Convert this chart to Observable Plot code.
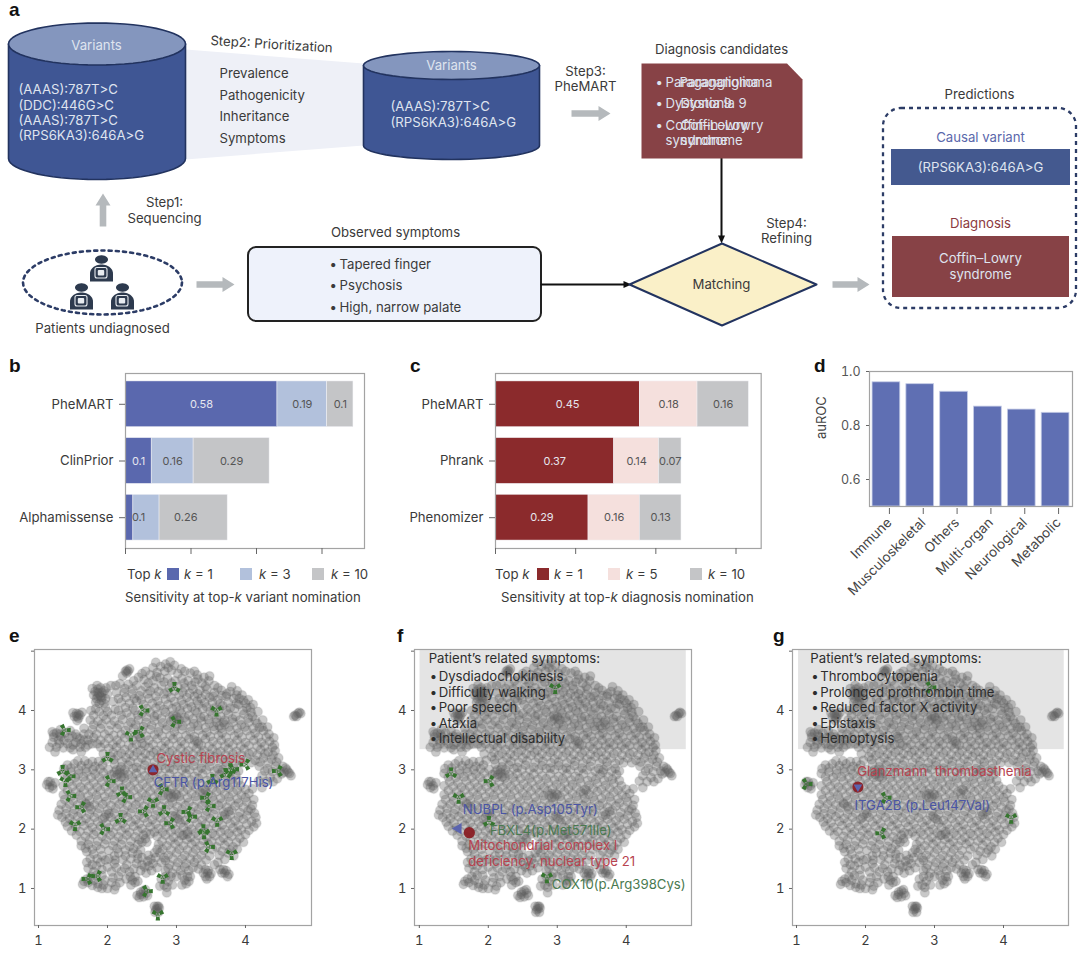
<!DOCTYPE html>
<html><head><meta charset="utf-8">
<script src="https://cdn.jsdelivr.net/npm/d3@7"></script>
<script src="https://cdn.jsdelivr.net/npm/@observablehq/plot@0.6"></script>
<style>
html,body{margin:0;padding:0;background:#fff}
#page{position:relative;width:1080px;height:954px;overflow:hidden;font-family:Inter,sans-serif;color:#3a3a3a}
#page svg{position:absolute;overflow:visible}
.t{position:absolute;white-space:nowrap;font-size:13.2px;line-height:15px;transform:translateY(-50%)}
.l{position:absolute;font:bold 19px "Liberation Sans",sans-serif;color:#111;line-height:16px;transform:translateY(-50%)}
.s{position:absolute;width:12px;height:12px}
</style></head><body><div id="page"></div>
<script>
const FONT="Inter, sans-serif", FS=13.2;
// ---------- panel b / c / d values
const kLevelsB=["k = 1","k = 3","k = 10"], kLevelsC=["k = 1","k = 5","k = 10"];
const modelsB=["PheMART","ClinPrior","Alphamissense"];
const valuesB=[[.58,.19,.10],[.10,.16,.29],[.03,.10,.26]];
const modelsC=["PheMART","Phrank","Phenomizer"];
const valuesC=[[.45,.18,.16],[.37,.14,.07],[.29,.16,.13]];
const coloursB=["#5a68ae","#b2c1dc","#c4c5c7"], coloursC=["#8b2a2c","#f5e0dd","#c4c5c7"];
const groupsD=["Immune","Musculoskeletal","Others","Multi-organ","Neurological","Metabolic"];
const aurocD=[.96,.953,.925,.87,.859,.847];
// ---------- panels e / f / g: grey embedding cloud
const cloudA=[[2.91,4.82],[2.84,4.78],[2.77,4.74],[2.97,4.76],[2.66,4.72],[2.28,4.68],[2.3,4.66],[2.26,4.66],
[2.55,4.66],[2.62,4.6],[2.72,4.64],[2.83,4.66],[2.93,4.68],[3.02,4.62],[3.12,4.66],[3.2,4.63],[3.3,4.6],[3.4,4.56],
[2.45,4.56],[2.53,4.52],[2.66,4.5],[2.76,4.55],[2.87,4.54],[2.98,4.5],[3.08,4.54],[3.17,4.5],[3.27,4.48],[3.37,4.46],[3.47,4.5],[3.55,4.42],
[2.18,4.45],[2.3,4.44],[2.42,4.42],[2.55,4.4],[2.68,4.38],[2.78,4.42],[2.9,4.38],[3.02,4.4],[3.12,4.38],[3.24,4.36],[3.34,4.34],[3.44,4.36],[3.55,4.3],[3.65,4.34],[3.8,4.4],[3.88,4.33],
[1.85,4.42],[1.9,4.38],[1.82,4.32],[1.88,4.28],[1.92,4.22],[1.84,4.2],[1.95,4.33],[2.05,4.42],[2.0,4.28],[1.88,4.12],[1.95,4.12],[2.12,4.42],[2.08,4.15],
[2.24,4.3],[2.36,4.28],[2.46,4.25],[2.58,4.28],[2.7,4.24],[2.82,4.28],[2.92,4.22],[3.04,4.26],[3.15,4.22],[3.26,4.24],[3.36,4.2],[3.48,4.22],[3.6,4.18],[3.72,4.24],[3.83,4.2],[3.95,4.26],[4.04,4.18],
[2.2,4.14],[2.32,4.12],[2.42,4.16],[2.52,4.1],[2.65,4.12],[2.76,4.08],[2.88,4.1],[3.0,4.06],[3.1,4.1],[3.22,4.06],[3.32,4.1],[3.44,4.06],[3.55,4.04],[3.67,4.08],[3.78,4.04],[3.9,4.1],[4.02,4.04],[4.11,4.1],
[1.55,3.95],[1.6,3.92],[1.52,3.9],[1.58,3.87],[1.76,4.0],[1.88,3.98],[2.0,3.98],[2.16,4.0],[2.28,3.96],[2.4,4.0],[2.5,3.95],[2.62,3.97],[2.72,3.93],[2.84,3.97],[2.95,3.92],[3.07,3.95],[3.18,3.92],[3.3,3.96],[3.4,3.9],[3.52,3.93],[3.64,3.9],[3.75,3.94],[3.86,3.9],[3.98,3.94],[4.1,3.9],[4.18,3.98],
[1.75,3.84],[1.86,3.82],[1.98,3.85],[2.1,3.82],[2.22,3.85],[2.34,3.8],[2.45,3.84],[2.56,3.8],[2.68,3.83],[2.8,3.79],[2.92,3.82],[3.02,3.78],[3.14,3.82],[3.25,3.78],[3.36,3.82],[3.48,3.78],[3.58,3.8],[3.7,3.76],[3.82,3.8],[3.94,3.76],[4.05,3.8],[4.17,3.78],[4.25,3.84],
[1.32,3.68],[1.26,3.62],[1.38,3.62],[1.46,3.66],[1.22,3.55],[1.32,3.56],[1.44,3.54],[1.54,3.6],[1.66,3.7],[1.78,3.68],[1.9,3.7],[2.02,3.66],[2.14,3.7],[2.26,3.66],[2.38,3.7],[2.5,3.66],[2.62,3.68],[2.74,3.64],[2.85,3.68],[2.97,3.64],[3.08,3.68],[3.2,3.64],[3.32,3.67],[3.44,3.63],[3.55,3.67],[3.66,3.62],[3.78,3.66],[3.9,3.62],[4.02,3.66],[4.14,3.62],[4.26,3.66],[4.34,3.6],
[1.2,3.46],[1.3,3.44],[1.42,3.44],[1.54,3.46],[1.6,3.38],[1.66,3.5],[1.72,3.42],[1.8,3.54],[1.9,3.5],[2.02,3.53],[2.14,3.5],[2.25,3.54],[2.37,3.5],[2.48,3.53],[2.6,3.5],[2.72,3.52],[2.84,3.48],[2.95,3.52],[3.07,3.48],[3.18,3.52],[3.3,3.48],[3.42,3.52],[3.53,3.48],[3.65,3.5],[3.76,3.46],[3.88,3.5],[4.0,3.46],[4.12,3.5],[4.23,3.46],[4.35,3.48],[4.42,3.42],
[1.24,3.3],[1.5,3.34],[1.62,3.3],[1.9,3.38],[2.02,3.36],[2.13,3.38],[2.25,3.34],[2.36,3.37],[2.48,3.33],[2.6,3.37],[2.71,3.33],[2.83,3.36],[2.94,3.32],[3.06,3.36],[3.17,3.32],[3.29,3.36],[3.4,3.32],[3.52,3.35],[3.64,3.31],[3.75,3.35],[3.87,3.31],[3.98,3.35],[4.1,3.3],[4.22,3.34],[4.33,3.3],[4.43,3.32],
[2.05,3.22],[2.15,3.24],[2.27,3.2],[2.38,3.23],[2.5,3.2],[2.62,3.24],[2.73,3.2],[2.85,3.22],[2.96,3.18],[3.08,3.22],[3.2,3.18],[3.32,3.22],[3.43,3.18],[3.55,3.22],[3.66,3.18],[3.78,3.2],[3.9,3.16],[4.02,3.2],[4.14,3.16],[4.26,3.2],[4.38,3.18],[4.48,3.2],
[1.42,3.08],[1.52,3.1],[1.62,3.07],[1.72,3.1],[1.82,3.06],[1.93,3.08],[2.1,3.1],[2.2,3.05],[2.3,3.08],[2.42,3.04],[2.54,3.08],[2.66,3.04],[2.78,3.07],[2.9,3.03],[3.02,3.07],[3.13,3.03],[3.25,3.07],[3.36,3.03],[3.48,3.06],[3.6,3.02],[3.72,3.06],[3.84,3.02],[4.2,3.06],[4.32,3.02],[4.44,3.06],[4.54,3.06],[4.6,3.0],[4.64,2.94],[4.56,2.96],[4.66,2.9],[4.5,2.98],
[1.36,2.94],[1.47,2.96],[1.58,2.93],[1.7,2.96],[1.82,2.93],[1.94,2.95],[2.06,2.92],[2.18,2.95],[2.3,2.92],[2.42,2.94],[2.54,2.9],[2.66,2.93],[2.78,2.9],[2.9,2.93],[3.02,2.89],[3.14,2.93],[3.26,2.89],[3.38,2.93],[3.5,2.88],[3.62,2.92],[3.74,2.88],[3.86,2.92],[4.24,2.9],[4.36,2.87],[4.46,2.85],
[1.17,2.8],[1.12,2.75],[1.2,2.73],[1.16,2.7],[1.24,2.78],[1.44,2.8],[1.56,2.78],[1.68,2.81],[1.8,2.78],[1.92,2.8],[2.04,2.77],[2.16,2.8],[2.27,2.77],[2.39,2.8],[2.51,2.76],[2.63,2.79],[2.75,2.75],[2.87,2.78],[2.99,2.75],[3.11,2.78],[3.22,2.75],[3.34,2.78],[3.46,2.74],[3.58,2.77],[3.7,2.74],[3.82,2.77],[3.93,2.73],[4.24,2.7],
[1.42,2.65],[1.54,2.63],[1.66,2.66],[1.78,2.63],[1.9,2.65],[2.02,2.62],[2.14,2.65],[2.26,2.62],[2.38,2.65],[2.5,2.61],[2.62,2.64],[2.74,2.61],[2.86,2.64],[2.98,2.6],[3.1,2.63],[3.22,2.6],[3.34,2.63],[3.46,2.59],[3.58,2.63],[3.7,2.59],[3.82,2.62],[3.94,2.58],[4.05,2.6],
[1.38,2.5],[1.5,2.48],[1.62,2.51],[1.74,2.48],[1.86,2.5],[1.98,2.47],[2.1,2.5],[2.22,2.47],[2.34,2.5],[2.46,2.46],[2.58,2.49],[2.7,2.46],[2.82,2.49],[2.94,2.45],[3.06,2.48],[3.18,2.45],[3.3,2.48],[3.42,2.45],[3.54,2.48],[3.66,2.44],[3.78,2.47],[3.9,2.44],[4.02,2.46],[4.1,2.4],
[1.3,2.32],[1.4,2.35],[1.52,2.33],[1.64,2.36],[1.76,2.33],[1.88,2.35],[2.0,2.32],[2.12,2.35],[2.24,2.32],[2.36,2.35],[2.48,2.31],[2.6,2.34],[2.72,2.31],[2.84,2.34],[2.96,2.3],[3.08,2.33],[3.2,2.3],[3.32,2.33],[3.44,2.3],[3.56,2.33],[3.68,2.29],[3.8,2.32],[3.92,2.28],[4.04,2.31],[4.13,2.27],
[1.34,2.2],[1.45,2.18],[1.57,2.21],[1.69,2.18],[1.81,2.2],[1.93,2.17],[2.05,2.2],[2.17,2.17],[2.29,2.2],[2.41,2.16],[2.53,2.19],[2.65,2.16],[2.77,2.19],[2.89,2.15],[3.01,2.18],[3.13,2.15],[3.25,2.18],[3.37,2.15],[3.49,2.18],[3.61,2.14],[3.73,2.17],[3.85,2.14],[3.97,2.17],[4.09,2.13],[4.16,2.1],
[1.42,2.05],[1.54,2.03],[1.66,2.06],[1.78,2.03],[1.9,2.05],[2.02,2.02],[2.14,2.05],[2.26,2.02],[2.38,2.05],[2.5,2.01],[2.62,2.04],[2.74,2.01],[2.86,2.04],[2.98,2.0],[3.1,2.03],[3.22,2.0],[3.34,2.03],[3.46,2.0],[3.58,2.03],[3.7,1.99],[3.82,2.02],[3.94,1.99],[4.05,1.98],
[1.55,1.9],[1.68,1.88],[1.8,1.91],[1.92,1.88],[2.04,1.9],[2.16,1.87],[2.28,1.9],[2.4,1.87],[2.52,1.9],[2.72,1.88],[2.84,1.9],[2.96,1.86],[3.08,1.89],[3.2,1.86],[3.32,1.89],[3.44,1.86],[3.56,1.89],[3.68,1.85],[3.8,1.88],[3.92,1.85],
[1.62,1.72],[1.72,1.74],[1.84,1.72],[1.96,1.75],[2.08,1.72],[2.2,1.74],[2.32,1.71],[2.44,1.74],[2.74,1.74],[2.86,1.72],[2.98,1.75],[3.1,1.72],[3.22,1.75],[3.34,1.72],[3.46,1.75],[3.58,1.7],[3.7,1.73],[3.82,1.7],
[1.7,1.62],[1.8,1.58],[1.92,1.55],[2.16,1.6],[2.26,1.55],[2.36,1.6],[2.5,1.52],[2.76,1.6],[2.88,1.56],[3.0,1.6],[3.12,1.56],[3.24,1.6],[3.36,1.56],[3.48,1.55],[3.62,1.56],[3.75,1.6],
[1.9,1.44],[2.1,1.42],[2.28,1.4],[2.42,1.42],[2.54,1.36],[2.66,1.42],[2.78,1.44],[2.9,1.4],[3.02,1.44],[3.14,1.42],[3.26,1.44],[3.36,1.4],
[1.72,1.34],[1.8,1.28],[1.92,1.32],[2.06,1.28],[2.2,1.28],[2.48,1.3],[2.56,1.26],[2.64,1.3],[2.84,1.3],[2.94,1.26],[3.06,1.3],[3.18,1.3],[3.42,1.32],[3.45,1.26],[3.48,1.2],[3.42,1.2],[3.68,1.32],[3.7,1.26],[3.74,1.2],[3.66,1.26],
[1.66,1.12],[1.72,1.1],[1.8,1.14],[1.86,1.08],[1.96,1.14],[1.92,1.0],[1.86,1.02],[2.0,1.0],[2.12,1.04],[2.18,1.1],[2.27,1.16],[2.36,1.14],[2.4,1.1],[2.44,1.12],[2.78,1.16],[2.82,1.06],[2.88,1.12],[3.0,1.2],[3.12,1.14],[3.18,1.12],[3.16,1.2],
[2.52,.96],[2.56,.92],[2.48,.9],[2.52,.86],[2.43,.88],[2.72,.7],[2.7,.64],[2.74,.6],[2.72,.66],[2.86,.93],
[4.72,3.92],[4.76,3.95],[4.78,3.97],[2.22,4.58],[3.55,1.4],[2.1,1.55],[1.75,1.5]];
const cloudB=[[2.7,4.81],[2.88,4.72],[3.07,4.7],[3.26,4.66],[3.48,4.58],[2.5,4.62],[2.59,4.46],[2.71,4.57],[2.82,4.48],[2.93,4.46],[3.11,4.46],[3.22,4.42],[3.31,4.53],[3.42,4.41],[3.6,4.38],[3.73,4.28],[3.91,4.2],
[2.38,4.5],[2.25,4.37],[2.36,4.36],[2.49,4.33],[2.62,4.33],[2.74,4.32],[2.87,4.31],[2.97,4.33],[3.09,4.31],[3.19,4.29],[3.31,4.28],[3.42,4.27],[3.53,4.24],[3.66,4.25],[3.78,4.32],[3.87,4.26],[4.0,4.12],
[1.78,4.37],[1.8,4.26],[1.86,4.36],[1.92,4.3],[1.97,4.2],[1.83,4.14],[1.91,4.17],[1.98,4.38],[2.13,4.3],[2.16,4.2],[2.27,4.22],[2.39,4.2],[2.49,4.18],[2.6,4.2],[2.73,4.16],[2.84,4.19],[2.97,4.15],[3.07,4.17],[3.19,4.14],[3.3,4.16],[3.41,4.13],[3.52,4.14],[3.63,4.11],[3.75,4.14],[3.87,4.12],[3.97,4.17],[4.08,3.97],
[1.5,3.96],[1.63,3.97],[1.56,3.83],[1.8,3.92],[1.94,3.91],[2.06,3.92],[2.2,3.92],[2.34,3.89],[2.44,3.92],[2.56,3.89],[2.68,3.9],[2.78,3.87],[2.9,3.89],[3.01,3.87],[3.12,3.88],[3.24,3.86],[3.35,3.88],[3.46,3.85],[3.58,3.87],[3.7,3.84],[3.81,3.86],[3.92,3.84],[4.04,3.87],[4.14,3.84],[4.24,3.72],
[1.8,3.76],[1.92,3.77],[2.05,3.76],[2.17,3.76],[2.3,3.74],[2.41,3.76],[2.52,3.73],[2.64,3.75],[2.75,3.72],[2.87,3.74],[2.98,3.72],[3.09,3.74],[3.21,3.72],[3.31,3.74],[3.42,3.71],[3.54,3.73],[3.65,3.7],[3.76,3.72],[3.88,3.7],[3.99,3.72],[4.11,3.7],[4.2,3.71],[4.32,3.72],
[1.2,3.64],[1.29,3.5],[1.37,3.5],[1.49,3.57],[1.6,3.52],[1.5,3.42],[1.66,3.6],[1.73,3.6],[1.84,3.6],[1.96,3.6],[2.09,3.58],[2.2,3.6],[2.32,3.58],[2.44,3.6],[2.56,3.57],[2.68,3.59],[2.79,3.57],[2.91,3.58],[3.02,3.56],[3.14,3.58],[3.26,3.56],[3.38,3.58],[3.49,3.56],[3.61,3.58],[3.72,3.55],[3.84,3.57],[3.95,3.55],[4.07,3.57],[4.19,3.55],[4.3,3.55],[4.41,3.54],
[1.16,3.38],[1.26,3.38],[1.36,3.37],[1.46,3.37],[1.68,3.38],[1.78,3.44],[1.85,3.44],[1.96,3.44],[2.08,3.43],[2.19,3.44],[2.31,3.42],[2.42,3.43],[2.54,3.41],[2.66,3.43],[2.78,3.41],[2.89,3.43],[3.01,3.41],[3.12,3.43],[3.24,3.41],[3.36,3.42],[3.47,3.4],[3.59,3.42],[3.7,3.4],[3.82,3.42],[3.93,3.4],[4.05,3.41],[4.17,3.4],[4.28,3.4],[4.39,3.38],
[1.94,3.27],[2.08,3.29],[2.2,3.28],[2.32,3.27],[2.43,3.29],[2.55,3.27],[2.67,3.29],[2.78,3.27],[2.9,3.29],[3.01,3.26],[3.13,3.28],[3.24,3.26],[3.36,3.28],[3.48,3.26],[3.59,3.28],[3.71,3.25],[3.82,3.27],[3.94,3.25],[4.05,3.27],[4.17,3.25],[4.28,3.27],[4.4,3.25],
[1.37,3.02],[1.47,3.03],[1.57,3.15],[1.67,3.15],[1.78,3.14],[1.87,3.14],[1.97,3.16],[2.09,3.17],[2.21,3.14],[2.33,3.14],[2.44,3.13],[2.56,3.15],[2.68,3.13],[2.79,3.14],[2.91,3.12],[3.02,3.13],[3.14,3.12],[3.26,3.14],[3.37,3.12],[3.49,3.14],[3.61,3.12],[3.72,3.13],[3.84,3.11],[3.96,3.12],[4.08,3.12],[4.21,3.13],[4.33,3.12],[4.45,3.13],[4.58,3.03],[4.52,2.93],[4.62,2.96],
[1.42,2.88],[1.53,2.87],[1.65,2.88],[1.76,2.87],[1.88,2.87],[2.0,2.86],[2.12,2.87],[2.24,2.86],[2.36,2.87],[2.47,2.85],[2.6,2.86],[2.72,2.84],[2.84,2.85],[2.96,2.83],[3.08,2.85],[3.2,2.83],[3.32,2.85],[3.44,2.82],[3.56,2.84],[3.68,2.82],[3.8,2.84],[3.9,2.82],[4.3,2.8],[4.19,2.81],[4.4,2.8],
[1.14,2.8],[1.21,2.68],[1.36,2.73],[1.49,2.72],[1.61,2.71],[1.73,2.72],[1.85,2.71],[1.97,2.71],[2.09,2.71],[2.21,2.7],[2.33,2.72],[2.45,2.69],[2.57,2.71],[2.69,2.69],[2.81,2.7],[2.93,2.68],[3.05,2.7],[3.16,2.68],[3.28,2.7],[3.4,2.67],[3.52,2.69],[3.64,2.67],[3.76,2.69],[3.88,2.66],[4.0,2.67],[4.1,2.68],
[1.36,2.58],[1.48,2.56],[1.6,2.57],[1.72,2.56],[1.84,2.57],[1.96,2.55],[2.08,2.57],[2.2,2.55],[2.32,2.57],[2.44,2.54],[2.56,2.56],[2.68,2.54],[2.8,2.56],[2.92,2.53],[3.04,2.55],[3.16,2.53],[3.28,2.55],[3.4,2.52],[3.52,2.54],[3.64,2.52],[3.76,2.54],[3.88,2.51],[4.0,2.53],[4.12,2.5],
[1.33,2.42],[1.45,2.42],[1.57,2.41],[1.69,2.42],[1.81,2.41],[1.93,2.42],[2.05,2.4],[2.17,2.42],[2.29,2.4],[2.41,2.41],[2.53,2.39],[2.65,2.41],[2.77,2.39],[2.89,2.41],[3.01,2.38],[3.13,2.4],[3.25,2.38],[3.37,2.4],[3.49,2.38],[3.61,2.4],[3.73,2.37],[3.85,2.39],[3.97,2.37],[4.08,2.34],
[1.28,2.24],[1.4,2.26],[1.5,2.26],[1.62,2.27],[1.74,2.26],[1.86,2.27],[1.98,2.25],[2.1,2.27],[2.22,2.25],[2.34,2.27],[2.46,2.24],[2.58,2.26],[2.7,2.24],[2.82,2.26],[2.94,2.23],[3.06,2.25],[3.18,2.23],[3.3,2.25],[3.42,2.23],[3.54,2.25],[3.66,2.22],[3.78,2.24],[3.9,2.21],[4.02,2.23],[4.15,2.2],
[1.39,2.12],[1.5,2.11],[1.62,2.13],[1.74,2.11],[1.86,2.12],[1.98,2.1],[2.1,2.12],[2.22,2.1],[2.34,2.12],[2.46,2.09],[2.58,2.11],[2.7,2.09],[2.82,2.11],[2.94,2.08],[3.06,2.1],[3.18,2.08],[3.3,2.1],[3.42,2.08],[3.54,2.1],[3.66,2.07],[3.78,2.09],[3.9,2.06],[4.02,2.08],[4.12,2.04],
[1.48,1.97],[1.6,1.96],[1.72,1.97],[1.84,1.96],[1.96,1.97],[2.08,1.95],[2.2,1.97],[2.32,1.95],[2.44,1.97],[2.56,1.94],[2.68,1.95],[2.8,1.95],[2.92,1.96],[3.04,1.94],[3.16,1.96],[3.28,1.94],[3.4,1.96],[3.52,1.93],[3.64,1.95],[3.76,1.93],[3.88,1.95],[4.0,1.91],
[1.62,1.8],[1.74,1.82],[1.86,1.8],[1.98,1.82],[2.1,1.8],[2.22,1.82],[2.34,1.8],[2.46,1.82],[2.57,1.78],[2.79,1.8],[2.91,1.81],[3.03,1.8],[3.15,1.82],[3.27,1.79],[3.39,1.81],[3.51,1.79],[3.63,1.8],[3.75,1.79],[3.87,1.78],[3.97,1.78],
[1.68,1.68],[1.78,1.66],[1.9,1.66],[2.02,1.64],[2.14,1.67],[2.26,1.65],[2.38,1.67],[2.48,1.65],[2.8,1.66],[2.92,1.65],[3.04,1.66],[3.16,1.65],[3.28,1.66],[3.4,1.64],[3.52,1.66],[3.66,1.63],[3.78,1.65],[3.88,1.66],
[2.02,1.5],[2.22,1.49],[2.34,1.5],[2.44,1.5],[2.58,1.46],[2.7,1.52],[2.82,1.52],[2.95,1.5],[3.08,1.5],[3.2,1.5],[3.3,1.5],[3.43,1.48],[1.84,1.38],[2.0,1.36],[2.32,1.28],[2.5,1.4],[2.6,1.38],[2.72,1.35],[2.88,1.34],[3.0,1.36],[3.12,1.36],[3.24,1.35],
[1.76,1.2],[1.7,1.16],[1.84,1.22],[1.92,1.22],[2.08,1.18],[2.16,1.2],[2.33,1.2],[2.4,1.2],[2.84,1.2],[2.92,1.2],[3.08,1.22],[3.2,1.2],[3.14,1.08],[3.46,1.3],[3.39,1.26],[3.44,1.16],[3.5,1.25],[3.72,1.3],[3.76,1.24],[3.63,1.32],
[1.64,1.07],[1.78,1.05],[1.94,1.06],[2.06,1.1],[2.1,.98],[2.34,1.06],[2.76,1.04],[2.86,1.02],[2.94,1.06],[3.08,1.06],[2.55,.98],[2.48,.94],[2.58,.88],[2.46,.85],[2.68,.7],[2.75,.67],[2.69,.6],[2.74,.7],[4.7,3.9],[4.74,3.9],[4.8,3.95],[2.32,4.7],[2.28,4.63]];
const cloudC=[[1.83,4.03],[1.97,4.05],[2.11,4.02],[2.26,4.05],[2.37,4.04],[2.57,4.03],[2.7,4.04],[2.82,4.02],[2.94,4.03],[3.05,4.01],[3.16,4.03],[3.27,4.0],[3.38,4.03],[3.49,3.99],[3.62,4.02],[3.72,4.0],[3.84,4.03],[3.96,4.0],[4.07,4.05],
[1.58,3.0],[1.69,3.02],[1.79,3.0],[1.89,3.02],[2.01,3.01],[2.13,3.0],[2.25,3.0],[2.37,3.02],[2.49,3.0],[2.6,3.0],[2.73,3.0],[2.84,3.02],[2.96,3.0],[3.08,3.0],[3.19,3.0],[3.31,2.98],[3.43,3.0],[3.55,2.98],[3.67,3.0],[3.79,2.98],[3.9,2.98],[4.28,2.98],[4.39,2.97],
[2.62,1.92],[2.55,1.84],[2.5,1.78],[2.72,1.66],[2.68,1.6],[2.59,1.56],[2.44,1.58],[2.63,1.49],[2.84,1.47],[2.11,1.48],[1.97,1.48],[1.85,1.5],[1.7,1.44],[1.78,1.4],[2.13,1.35],[2.25,1.34],[2.38,1.33],[3.32,1.33],[3.6,1.44],[3.7,1.49],[3.83,1.55],
[1.56,3.55],[1.62,3.44],[1.72,3.5],[1.22,3.6],[1.31,3.6],[1.86,4.3],[1.9,4.24],[1.86,4.24],[1.58,3.94],[1.56,3.9],[2.18,3.0],[2.14,2.92],[2.2,2.88],[2.1,2.96],[2.24,2.93],[3.0,3.9],[3.04,3.84],[2.96,3.86],[2.92,2.6],[2.96,2.54],[2.88,2.57],[3.0,2.58],[3.42,2.66],[3.38,2.6],[2.98,2.22],[3.04,2.16],[3.66,2.96],[3.1,1.9],[3.16,1.92],[2.46,3.56],[2.5,3.44],[3.32,3.44],[3.26,3.5],[3.62,3.74],[3.68,3.8],[1.68,2.44],[1.74,2.38],[1.96,2.2],[2.02,2.26],[3.7,2.24],[3.76,2.3]];
const cloud=[...cloudA,...cloudB,...cloudC];
// green tri markers: x, y, rotation
const greenE=[[2.97,4.38,0],[2.52,4.0,90],[3.58,4.0,180],[2.98,3.81,90],[1.38,3.67,90],[2.34,3.58,180],[2.47,3.64,270],[2,3.2,0],[4,3.09,270],[4.47,2.98,270],[1.35,2.98,0],[1.45,2.89,90],[1.39,2.81,180],[2.03,2.81,90],[3.78,3.01,0],[3.82,3.01,90],[3.71,2.93,0],[3.52,2.83,0],[2.8,2.67,90],[1.46,2.56,90],[2.21,2.62,0],[2.27,2.54,90],[3.43,2.53,270],[2.66,2.46,180],[1.62,2.37,270],[2.53,2.3,270],[3.48,2.39,90],[2.82,2.3,0],[3.16,2.29,270],[3.21,2.21,90],[2.19,2.17,0],[3.59,2.14,180],[1.53,2.07,180],[2.91,2.1,270],[1.95,2,90],[3.39,1.98,0],[3.4,1.93,180],[3.47,1.7,90],[3.8,1.58,180],[1.71,1.16,270],[1.85,1.21,270],[2.8,1.18,180],[2.57,.955,90],[2.73,.56,180]];
const greenF=[[2.97,4.38,180],[1.46,2.94,0],[2.02,2.81,270],[1.57,2.53,180],[2.01,2.12,0],[2.85,1.19,180]];
const greenG=[[2.94,4.39,90],[1.145,2.76,90],[2.29,2.53,90],[4.11,2.19,180],[2.23,1.93,270]];
const SYMPF=["Dysdiadochokinesis","Difficulty walking","Poor speech","Ataxia","Intellectual disability"];
const SYMPG=["Thrombocytopenia","Prolonged prothrombin time","Reduced factor X activity","Epistaxis","Hemoptysis"];
const symptomY=[4.573,4.304,4.05,3.78,3.53];

const page=document.getElementById("page");
function place(svg,x,y){svg.style.left=x+"px";svg.style.top=y+"px";page.appendChild(svg);}
function html(cls,x,y,content,style=""){const d=document.createElement("div");d.className=cls;d.style.cssText=`left:${x}px;top:${y}px;${style}`;d.innerHTML=content;page.appendChild(d);return d;}
const base={style:{fontFamily:FONT,background:"transparent",color:"#3a3a3a"}};

// ---------- panel a : schematic
const ell=(cx,cy,rx,ry,a0=0,a1=360)=>d3.range(a0,a1+1,6).map(a=>[cx+rx*Math.cos(a*Math.PI/180),cy+ry*Math.sin(a*Math.PI/180)]);
const shape=(pts,o)=>Plot.line(pts,{x:d=>d[0],y:d=>d[1],...o});
const closed=p=>[...p,p[0]];
const DARK="#22335f",BODY="#3f5694",LID="#8496be",WINE="#874246",ARROW="#b5b9bc";
function cylinder(cx,cy,rx,ry,yb){return [
 shape(closed([[cx-rx,cy],...ell(cx,yb,rx,ry,0,180).reverse(),[cx+rx,cy]]),{fill:BODY,stroke:DARK,strokeWidth:1.6}),
 shape(ell(cx,cy,rx,ry),{fill:LID,stroke:DARK,strokeWidth:1.6})];}
function block(x0,y0,x1,y1){ // thick grey arrow
 const dx=Math.sign(x1-x0),dy=Math.sign(y1-y0),hl=12,hw=7.5,sw=3.3;
 const bx=x1-dx*hl,by=y1-dy*hl;
 return shape(closed([[x0-dy*sw,y0-dx*sw],[bx-dy*sw,by-dx*sw],[bx-dy*hw,by-dx*hw],[x1,y1],[bx+dy*hw,by+dx*hw],[bx+dy*sw,by+dx*sw],[x0+dy*sw,y0+dx*sw]]),{fill:ARROW,stroke:"none"});}
function person(cx,cy){return [
 shape(ell(cx,cy-1,6.5,4.2),{fill:"#2d3a4e",stroke:"none"}),
 shape(closed([...ell(cx,cy+13,11.5,9,180,360),[cx+11.5,cy+21],[cx-11.5,cy+21]]),{fill:"#2d3a4e",stroke:"none"}),
 Plot.rect([0],{x1:cx-6,x2:cx+6,y1:cy+7.5,y2:cy+18,rx:2,fill:"none",stroke:"#e8ecf0",strokeWidth:1.1}),
 Plot.rect([0],{x1:cx-3.2,x2:cx+3.2,y1:cy+10,y2:cy+15.5,rx:1,fill:"#e8ecf0"})];}
const box=(x1,x2,y1,y2,o)=>Plot.rect([0],{x1,x2,y1,y2,...o});
const dark="#3a3a3a",pale="#dfe4ef";
const labelsStart=[
["(AAAS):787T>C",18,89,pale],["(DDC):446G>C",18,105,pale],["(AAAS):787T>C",18,120,pale],["(RPS6KA3):646A>G",18,135,pale],
["Prevalence",219,73,dark],["Pathogenicity",219,95,dark],["Inheritance",219,116,dark],["Symptoms",219,138,dark],
["(AAAS):787T>C",390,106,pale],["(RPS6KA3):646A>G",390,122,pale],
["•",329,264,dark],["Tapered finger",339,264,dark],["•",329,285,dark],["Psychosis",339,285,dark],["•",329,307,dark],["High, narrow palate",339,307,dark],
["•",655,82,pale],["•",655,103,pale],["•",655,125,pale],
["Paraganglioma",665,82,pale],["Paraganglioma",679,82,pale],["Dystonia 9",665,103,pale],["Dystonia 9",680,103,pale],
["Coffin–Lowry",665,125,pale],["Coffin–Lowry",680,125,pale],["syndrome",665,140,pale],["syndrome",680,140,pale]];
const labelsMiddle=[
["Variants",96,45,pale],["Variants",451,65,pale],
["Step1:",164,202,dark],["Sequencing",164,218,dark],["Observed symptoms",395,232,dark],
["Patients undiagnosed",102,328,dark],
["Step3:",585,71,dark],["PheMART",585,86,dark],["Diagnosis candidates",721,49,dark],
["Step4:",786,223,dark],["Refining",786,238,dark],["Matching",721,284,dark],
["Predictions",979,94,dark],["Causal variant",980,137,"#5a67ab"],["(RPS6KA3):646A>G",980,167,pale],
["Diagnosis",980,223,"#8c3a40"],["Coffin–Lowry",980,258,pale],["syndrome",980,274,pale]];
const lab=(rows,textAnchor)=>Plot.text(rows,{x:d=>d[1],y:d=>d[2],text:d=>d[0],fill:d=>d[3],textAnchor,fontSize:FS});
place(Plot.plot({...base,width:1080,height:345,margin:0,x:{domain:[0,1080],range:[0,1080],axis:null},y:{domain:[0,345],range:[0,345],axis:null},
 marks:[
 shape(closed([[185,49],[363,63],[363,145],[185,159]]),{fill:"#eef0f7",stroke:"none"}),
 ...cylinder(96.5,43.5,88.5,21,158),...cylinder(451,65,88,14,145),
 block(102.5,226,102.5,193),block(196,284,234,284),block(571,113,610,113),block(832,284,869,284),
 shape(ell(102,282,79.5,32),{stroke:"#2c3c66",strokeWidth:2.6,strokeDasharray:"3 4.2"}),
 ...person(101,260),...person(81,288),...person(122,288),
 box(248,541,247,321,{rx:8,fill:"#eef2fb",stroke:"#222",strokeWidth:2}),
 shape([[541,284],[625,284]],{stroke:"#111",strokeWidth:2}),
 shape(closed([[631,284],[623,280.5],[623,287.5]]),{fill:"#111",stroke:"none"}),
 shape([[721,158],[721,238]],{stroke:"#111",strokeWidth:2}),
 shape(closed([[721,243],[717.5,235],[724.5,235]]),{fill:"#111",stroke:"none"}),
 shape(closed([[721.5,243],[816,284],[721.5,325],[629,284]]),{fill:"#faf0c8",stroke:DARK,strokeWidth:2}),
 shape(closed([[641,63],[786.5,63],[802,79],[802,158],[641,158]]),{fill:WINE,stroke:"none"}),
 box(883,1076,108,308,{rx:18,fill:"none",stroke:"#2c3c66",strokeWidth:2.3,strokeDasharray:"4 4"}),
 box(891,1070,149,185,{fill:"#44598f"}),box(892,1069,236,297,{fill:WINE}),
 lab(labelsStart,"start"),lab(labelsMiddle,"middle"),
 Plot.text(["Step2: Prioritization"],{x:271,y:44,text:d=>d,rotate:3.5,fontSize:FS,fill:dark})
 ]}),0,0);

// ---------- panels b, c
function stacked(models,values,levels,colours,xmax,left,width,ticks){
 const rows=models.flatMap((m,i)=>levels.map((k,j)=>({model:m,k,value:values[i][j],j})));
 const o={x:"value",y:"model",z:"k",order:null};
 return Plot.plot({...base,width,height:190,marginLeft:left,marginRight:2,marginTop:5,marginBottom:10,
  x:{domain:[0,xmax],axis:null},
  y:{domain:models,paddingInner:.193,paddingOuter:.14,round:false,axis:null},
  color:{domain:levels,range:colours},
  marks:[
   Plot.barX(rows,Plot.stackX({...o,fill:"k",stroke:"#f2f2f6",strokeWidth:.5})),
   Plot.text(rows.filter(d=>d.value>=.05),Plot.stackX({...o,text:d=>String(d.value),fill:d=>d.j===0?"#e6e6ee":"#555",fontSize:11})),
   Plot.frame({stroke:"#a3a3a3",strokeWidth:1.2}),
   Plot.axisX({ticks,tickFormat:()=>"",tickSize:6,stroke:"#666",label:null}),
   Plot.axisY({tickSize:6,tickPadding:6,stroke:"#666",fontSize:FS,fill:"#3a3a3a",label:null})
  ]});}
place(stacked(modelsB,valuesB,kLevelsB,coloursB,239/262,123,364,[0,.25,.5,.75]),2,368);
place(stacked(modelsC,valuesC,kLevelsC,coloursC,265.7/320.7,93,360.7,[0,.25,.5,.75]),402,368);
function legend(items,colours,top){items.forEach((it,i)=>{html("s",it[0],568,"",`background:${colours[i]}`);html("t",it[1],574,`<i>k</i> = ${it[2]}`);});html("t",top,574,"Top <i>k</i>");}
legend([[167,184,1],[240,259,3],[312,331,10]],coloursB,127);
legend([[537,554,1],[608,626,5],[690,708,10]],coloursC,495);
html("t",125,597,"Sensitivity at top-<i>k</i> variant nomination");
html("t",501,597,"Sensitivity at top-<i>k</i> diagnosis nomination");

// ---------- panel d
place(Plot.plot({...base,width:253,height:210,marginLeft:40,marginRight:10,marginTop:10,marginBottom:65,
 x:{domain:groupsD,paddingInner:.18,paddingOuter:.09,round:false,axis:null},
 y:{domain:[.5,1],axis:null},
 marks:[
  Plot.barY(groupsD.map((g,i)=>({g,v:aurocD[i]})),{x:"g",y1:.5,y2:"v",fill:"#5f6fb3",stroke:"#c5cce6",strokeWidth:.8}),
  Plot.frame({stroke:"#a3a3a3",strokeWidth:1.2}),
  Plot.axisX({tickSize:6,tickRotate:-45,stroke:"#666",fontSize:13.5,fill:"#444",label:null,dx:3,dy:2}),
  Plot.axisY({ticks:[.6,.8,1],tickFormat:d3.format(".1f"),tickSize:3,stroke:"#666",fontSize:12.5,fill:"#555",label:null}),
  Plot.text(["auROC"],{frameAnchor:"left",dx:-48,rotate:-90,text:d=>d,fontSize:13,fill:"#444"})
 ]}),829,361);

// ---------- panels e, f, g
const tripod={draw(c,size){const r=Math.sqrt(size/Math.PI),L=r*1.3,w=r*.3;
 for(const a of [-90,30,150]){const t=a*Math.PI/180,ux=Math.cos(t),uy=Math.sin(t),vx=-uy*w,vy=ux*w;
  c.moveTo(vx,vy);c.lineTo(ux*L+vx*1.6,uy*L+vy*1.6);c.lineTo(ux*L-vx*1.6,uy*L-vy*1.6);c.lineTo(-vx,-vy);c.closePath();}
 c.moveTo(r*.5,0);c.arc(0,0,r*.5,0,2*Math.PI);}};
function scatter(xd,width,green,extra,under){
 const tri=d=>Plot.dot(d,{x:d=>d[0],y:d=>d[1],rotate:d=>d[2],symbol:tripod,r:4.6,fill:"#36752f",stroke:"none",fillOpacity:1});
 return Plot.plot({...base,width,height:314,marginLeft:24,marginRight:4,marginTop:9,marginBottom:29,
  x:{domain:xd,axis:null},y:{domain:[.376,5.028],axis:null},
  marks:[...under,
   Plot.dot(cloud,{x:d=>d[0],y:d=>d[1],r:4.6,fill:"#5e5e5e",fillOpacity:.34,stroke:"#5e5e5e",strokeOpacity:.1}),
   tri(green),...extra,
   Plot.frame({stroke:"#a3a3a3",strokeWidth:1.2}),
   Plot.axisX({ticks:[1,2,3,4],tickFormat:d3.format("d"),tickSize:3,tickPadding:7,stroke:"#666",fontSize:13,fill:"#3a3a3a",label:null}),
   Plot.axisY({ticks:[1,2,3,4,5],tickFormat:d=>d<5?String(d):"",tickSize:3,tickPadding:5,stroke:"#666",fontSize:13,fill:"#3a3a3a",label:null})
  ]});}
const RED="#8a1f25",BLUE="#5b64ae",RT="#b8434f",BT="#4a55a5",GT="#4a7a50";
const hit=(x,y,rot)=>[Plot.dot([[x,y]],{x:d=>d[0],y:d=>d[1],r:5.6,fill:RED,fillOpacity:.95}),
 ...(rot==null?[]:[Plot.dot([[x,y,rot]],{x:d=>d[0],y:d=>d[1],rotate:d=>d[2],symbol:"triangle",r:3.2,fill:BLUE})])];
const anno=(rows)=>Plot.text(rows,{x:d=>d[1],y:d=>d[2],text:d=>d[0],fill:d=>d[3],textAnchor:"start",fontSize:FS});
const greyBox=(x1,x2)=>box(x1,x2,3.34,5.01,{fill:"#e4e4e4"});
const symText=(rows,x)=>{const T=(data,o)=>Plot.text(data,{y:d=>d[1],text:d=>d[0],textAnchor:"start",fontSize:FS,fill:"#2d2d2d",...o});
 const r=rows.map((t,i)=>[t,symptomY[i]]);
 return [T([["Patient’s related symptoms:",4.877]],{x:()=>x}),T(r.map(d=>["•",d[1]]),{x:()=>x+.015}),T(r,{x:()=>x+.145})];};
place(scatter([.942,4.957],305,greenE,[...hit(2.66,3.0,0),
  anno([["Cystic fibrosis",2.71,3.18,RT],["CFTR (p.Arg117His)",2.67,2.78,BT]])],[]),10,640);
place(scatter([.93,4.946],305,greenF,[Plot.dot([[1.565,2.01,270]],{x:d=>d[0],y:d=>d[1],rotate:d=>d[2],symbol:"triangle",r:4.2,fill:BLUE}),...hit(1.725,1.94,null),
  anno([["NUBPL (p.Asp105Tyr)",1.63,2.33,BT],["FBXL4(p.Met571Ile)",2.02,1.97,GT],["Mitochondrial complex I",1.71,1.72,RT],["deficiency, nuclear type 21",1.71,1.45,RT],["COX10(p.Arg398Cys)",2.92,1.07,GT]]),
  ...symText(SYMPF,1.135)],[greyBox(1.01,4.87)]),390,640);
place(scatter([.942,4.942],304,greenG,[...hit(1.89,2.71,180),
  anno([["Glanzmann  thrombasthenia",1.88,2.97,RT],["ITGA2B (p.Leu147Val)",1.84,2.4,BT]]),
  ...symText(SYMPG,1.2)],[greyBox(1.03,4.88)]),768,640);

// ---------- panel letters
[["a",9,10],["b",9,366],["c",410,366],["d",814,366],["e",9,636],["f",397,636],["g",773,636]].forEach(([s,x,y])=>html("l",x,y,s));
</script></body></html>
